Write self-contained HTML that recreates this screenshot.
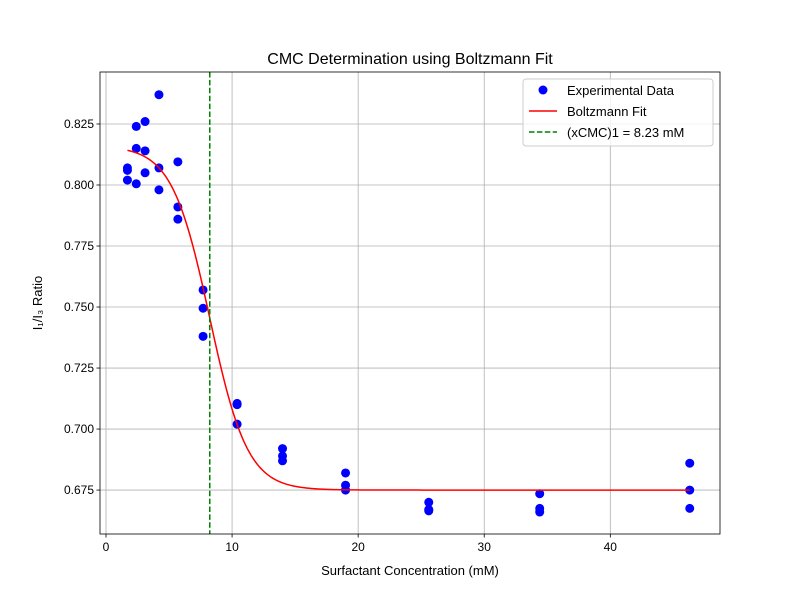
<!DOCTYPE html>
<html><head><meta charset="utf-8"><style>
body{margin:0;background:#fff;font-family:"Liberation Sans","DejaVu Sans",sans-serif}
</style></head><body>
<svg id="c" width="800" height="600" xmlns="http://www.w3.org/2000/svg"></svg>
<script>
const xs = [1.7,1.7,1.7,2.4,2.4,2.4,3.1,3.1,3.1,4.2,4.2,4.2,5.7,5.7,5.7,7.7,7.7,7.7,10.4,10.4,10.4,14,14,14,19,19,19,25.6,25.6,25.6,34.4,34.4,34.4,46.3,46.3,46.3];
const ys = [0.807,0.806,0.802,0.824,0.815,0.8005,0.826,0.814,0.805,0.837,0.807,0.798,0.8095,0.791,0.786,0.757,0.7495,0.738,0.7105,0.710,0.702,0.692,0.689,0.687,0.682,0.677,0.675,0.670,0.667,0.6665,0.6735,0.6675,0.666,0.686,0.675,0.6675];
const fitParams = [0.816,0.675,8.23,1.5]; // A1, A2, x0, dx
const cmc = 8.23;
const xTicks = [0,10,20,30,40];
const yTicks = [0.675,0.700,0.725,0.750,0.775,0.800,0.825];
const L=100,R=720,T=72,B=534, xmin=-0.476,xmax=48.7,ymin=0.657,ymax=0.8463;
const sx=v=>L+(v-xmin)/(xmax-xmin)*(R-L), sy=v=>B-(v-ymin)/(ymax-ymin)*(B-T);
const svg=document.getElementById('c');const NS='http://www.w3.org/2000/svg';
function mk(t,a,p){const e=document.createElementNS(NS,t);for(const k in a)e.setAttribute(k,a[k]);(p||svg).appendChild(e);return e;}
// grid + ticks
xTicks.forEach(v=>{const x=sx(v);
const g=mk('line',{x1:x,x2:x,y1:T,y2:B,stroke:'#b0b0b0','stroke-width':0.8});


mk('line',{x1:x,x2:x,y1:B,y2:B+3.5,stroke:'#000','stroke-width':0.8});
const t=mk('text',{x:x,y:B+17,'text-anchor':'middle','font-size':12});t.textContent=v;

});
yTicks.forEach(v=>{const y=sy(v);
const g=mk('line',{x1:L,x2:R,y1:y,y2:y,stroke:'#b0b0b0','stroke-width':0.8});


mk('line',{x1:L-3.5,x2:L,y1:y,y2:y,stroke:'#000','stroke-width':0.8});
const t=mk('text',{x:L-6,y:y+4,'text-anchor':'end','font-size':12});t.textContent=v.toFixed(3);

});
// points
xs.forEach((v,i)=>{const c=mk('circle',{cx:sx(v),cy:sy(ys[i]),r:4.5,fill:'#0000ff'});

});
// fit
const [A1,A2,x0,dx]=fitParams;let d='';
for(let i=0;i<=300;i++){const x=1.7+(46.3-1.7)*i/300;const y=A2+(A1-A2)/(1+Math.exp((x-x0)/dx));d+=(i?'L':'M')+sx(x).toFixed(2)+','+sy(y).toFixed(2);}
const fp=mk('path',{d:d,fill:'none',stroke:'#ff0000','stroke-width':1.5});


const cl=mk('line',{x1:sx(cmc),x2:sx(cmc),y1:T,y2:B,stroke:'#008000','stroke-width':1.5,'stroke-dasharray':'5.5,2.4'});


</script>
<svg style="position:absolute;left:0;top:0" width="800" height="600" xmlns="http://www.w3.org/2000/svg">
<rect x="100" y="72" width="620" height="462" fill="none" stroke="#000" stroke-width="0.8"/>
<text x="410" y="64" text-anchor="middle" font-size="16">CMC Determination using Boltzmann Fit</text>
<text x="410" y="575" text-anchor="middle" font-size="13">Surfactant Concentration (mM)</text>
<text transform="translate(42,303) rotate(-90)" text-anchor="middle" font-size="13">I₁/I₃ Ratio</text>
<g>
<rect x="523" y="79" width="190" height="67" rx="3" fill="#fff" fill-opacity="0.8" stroke="#ccc"/>
<circle cx="543" cy="90" r="4.5" fill="#0000ff"/>
<text x="567" y="95" font-size="13">Experimental Data</text>
<line x1="529" x2="557" y1="111" y2="111" stroke="#ff0000" stroke-width="1.5"/>
<text x="567" y="116" font-size="13">Boltzmann Fit</text>
<line x1="529" x2="557" y1="132" y2="132" stroke="#008000" stroke-width="1.5" stroke-dasharray="5.5,2.4"/>
<text x="567" y="137" font-size="13">(xCMC)1 = 8.23 mM</text>
</g>
</svg>
</body></html>
